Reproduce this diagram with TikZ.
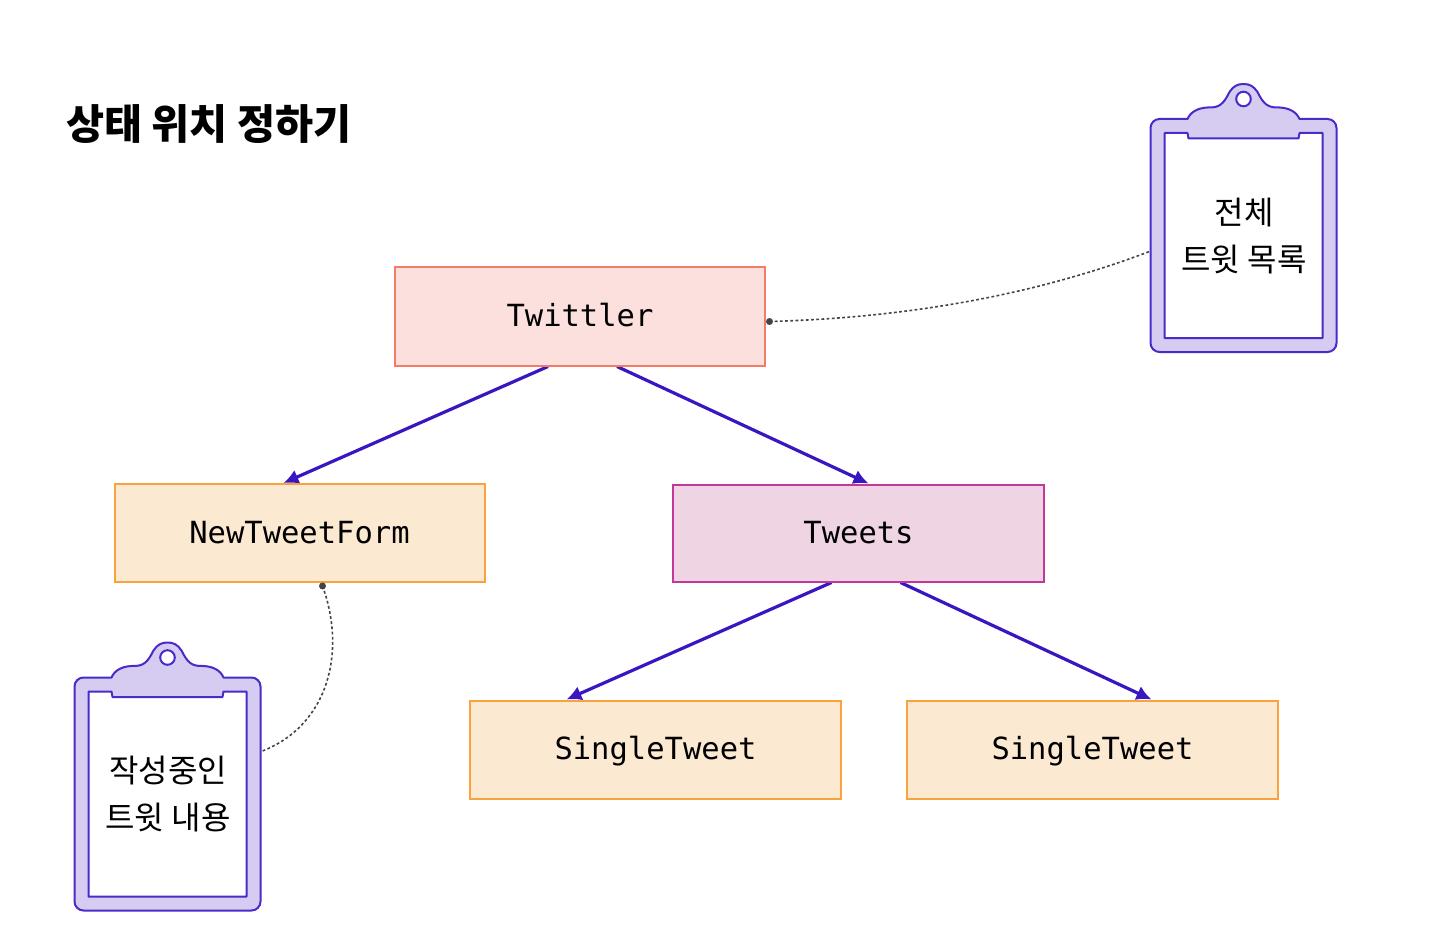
\documentclass[tikz,border=0pt]{standalone}
\usepackage{fontspec}
\setmainfont{Noto Sans CJK KR}
\setmonofont{DejaVu Sans Mono}
\usetikzlibrary{arrows.meta,backgrounds}
\definecolor{pinkfill}{HTML}{FBE0DD}
\definecolor{pinkline}{HTML}{F47C66}
\definecolor{orangefill}{HTML}{FBE9D1}
\definecolor{orangeline}{HTML}{F9A33F}
\definecolor{plumfill}{HTML}{EFD5E4}
\definecolor{plumline}{HTML}{C2389A}
\definecolor{clipfill}{HTML}{D6CCF2}
\definecolor{clipline}{HTML}{4A2AC8}
\definecolor{arrowblue}{HTML}{3A16C2}
\definecolor{dotgray}{HTML}{444444}
\tikzset{
  x=1pt,y=-1pt,
  comp/.style={draw,line width=2pt,inner sep=0pt,text height=27.5pt,text depth=7pt,font=\ttfamily\fontsize{30.5}{36}\selectfont,text=black},
  pinkbox/.style={comp,fill=pinkfill,draw=pinkline},
  orangebox/.style={comp,fill=orangefill,draw=orangeline},
  plumbox/.style={comp,fill=plumfill,draw=plumline},
  flow/.style={draw=arrowblue,line width=3.2pt,-{Latex[length=15pt,width=15pt]}},
  linknote/.style={draw=dotgray,line width=1.6pt,dash pattern=on 2.8pt off 2.4pt},
  linkdot/.style={circle,fill=dotgray,inner sep=0pt,minimum size=7pt},
  notetext/.style={inner sep=0pt,align=center,font=\fontsize{32}{47}\selectfont,text=black},
  boardshape/.style={fill=clipfill,draw=clipline,line width=2pt,line join=round},
  clipboard/.pic={
    \path[boardshape,even odd rule]
      (-93,9) arc[start angle=180,end angle=270,radius=9] -- (-56,0)
      .. controls (-53,-7) and (-46,-11) .. (-36,-11.5)
      .. controls (-24,-11) and (-20,-15) .. (-14,-27)
      .. controls (-10,-33) and (-6,-35) .. (0,-35)
      .. controls (6,-35) and (10,-33) .. (14,-27)
      .. controls (20,-15) and (24,-11) .. (36,-11.5)
      .. controls (46,-11) and (53,-7) .. (56,0)
      -- (84,0)
      arc[start angle=270,end angle=360,radius=9] -- (93,224)
      arc[start angle=0,end angle=90,radius=9] -- (-84,233)
      arc[start angle=90,end angle=180,radius=9] -- cycle
      (-79,14) -- (-56,14) -- (-55,19.5) -- (55,19.5) -- (56,14) -- (79,14) -- (79,219) -- (-79,219) -- cycle;
    \path[draw=clipline,fill=white,line width=2pt] (0,-20) circle[radius=7.3];
  }
}
\begin{document}
\begin{tikzpicture}
\useasboundingbox (0,0) rectangle (1444,944);
\node[anchor=west,inner sep=0pt,font=\bfseries\fontsize{41.4}{48}\selectfont,text=black] (title) at (66,124.5) {상태 위치 정하기};

\node[pinkbox,minimum width=370pt,minimum height=98pt] (twittler) at (580,316.5) {Twittler};
\node[orangebox,minimum width=370pt,minimum height=98pt] (form) at (299.5,533) {NewTweetForm};
\node[plumbox,minimum width=371pt,minimum height=97pt] (tweets) at (858.5,533) {Tweets};
\node[orangebox,minimum width=371pt,minimum height=98pt] (single1) at (655.5,749.5) {SingleTweet};
\node[orangebox,minimum width=371pt,minimum height=98pt] (single2) at (1092.5,749.5) {SingleTweet};

\pic at (1243.5,119) {clipboard};
\pic at (167.5,677.5) {clipboard};
\node[notetext,minimum width=186pt,minimum height=233pt] (noteall) at (1244,236) {전체\\트윗 목록};
\node[notetext,minimum width=186pt,minimum height=233pt] (notedraft) at (168,794.5) {작성중인\\트윗 내용};

\node[linkdot] (dotall) at (769.5,321.5) {};
\node[linkdot] (dotform) at (322.5,586) {};

\begin{scope}[on background layer]
\draw[flow] ([xshift=-32pt]twittler.south) -- ([xshift=-16pt]form.north);
\draw[flow] ([xshift=37pt]twittler.south) -- ([xshift=10pt]tweets.north);
\draw[flow] ([xshift=-27pt]tweets.south) -- ([xshift=-89pt]single1.north);
\draw[flow] ([xshift=42pt]tweets.south) -- ([xshift=59pt]single2.north);
\end{scope}
\draw[linknote] (dotall.center) .. controls (900,318) and (1030,297) .. ([yshift=-15pt]noteall.west);
\draw[linknote] (dotform.center) .. controls (346,650) and (330,725) .. ([yshift=43pt]notedraft.east);
\end{tikzpicture}
\end{document}
